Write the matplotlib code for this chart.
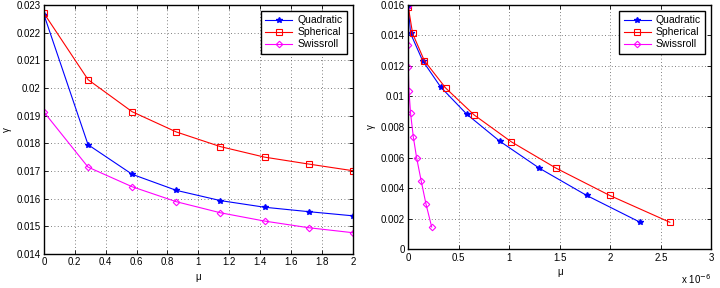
import matplotlib
matplotlib.use("Agg")
import matplotlib.pyplot as plt
from matplotlib.ticker import FuncFormatter, MultipleLocator
import numpy as np

# left panel
mu_left = [0, 2/7, 4/7, 6/7, 8/7, 10/7, 12/7, 2]
quad_left = [0.02265, 0.01795, 0.01688, 0.01630, 0.01593, 0.01569, 0.01553, 0.01538]
sph_left = [0.02270, 0.02030, 0.01914, 0.01841, 0.01788, 0.01750, 0.01725, 0.01701]
swiss_left = [0.01913, 0.01714, 0.01643, 0.01589, 0.01549, 0.01519, 0.01495, 0.01477]

# right panel (mu in units of 1e-6)
quad_mu = [0, 0.023, 0.142, 0.321, 0.579, 0.904, 1.298, 1.765, 2.295]
quad_g = [0.01593, 0.01413, 0.01235, 0.01062, 0.00884, 0.00708, 0.0053, 0.00352, 0.00176]
sph_mu = [0, 0.043, 0.159, 0.371, 0.652, 1.02, 1.464, 1.993, 2.589]
sph_g = [0.01589, 0.01413, 0.01235, 0.01055, 0.00879, 0.00703, 0.0053, 0.00352, 0.00176]
swiss_mu = [0, 0, 0, 0.007, 0.023, 0.05, 0.083, 0.129, 0.175, 0.232]
swiss_g = [0.01590, 0.01336, 0.01191, 0.01039, 0.0089, 0.00736, 0.00598, 0.00444, 0.00297, 0.00145]

labels = ["Quadratic", "Spherical", "Swissroll"]
fs = 7

plt.rcParams['font.family'] = ['Liberation Sans', 'DejaVu Sans']
plt.rcParams['font.size'] = fs

fig = plt.figure(figsize=(7.2, 2.88), dpi=100)
ax1 = fig.add_axes([0.061, 0.118, 0.429, 0.865])
ax2 = fig.add_axes([0.567, 0.135, 0.421, 0.848])

gfmt = FuncFormatter(lambda v, p: "%g" % round(v, 6))

def style(ax):
    ax.grid(True, linestyle=(0, (1, 3)), color='#555555', linewidth=0.6)
    ax.tick_params(direction='in', length=3, width=0.6, labelsize=fs, top=True, right=True, pad=2.5)
    for s in ax.spines.values():
        s.set_linewidth(1.0)
    leg = ax.legend(loc='upper right', fontsize=fs + 0.5, fancybox=False, framealpha=1,
                    edgecolor='black', borderpad=0.4, handlelength=2.6, labelspacing=0.2,
                    handletextpad=0.5, borderaxespad=0.6)
    leg.get_frame().set_linewidth(1.0)
    ax.set_xlabel("μ", fontsize=fs, labelpad=3)
    ax.set_ylabel("γ", fontsize=fs, labelpad=3)

def draw(ax, xq, yq, xs, ys, xw, yw):
    ax.plot(xq, yq, color='#0000ff', marker='*', markersize=4, linewidth=0.8, label=labels[0])
    ax.plot(xs, ys, color='#ff0000', marker='s', markersize=4.5, markerfacecolor='none',
            markeredgewidth=0.8, linewidth=0.8, label=labels[1])
    ax.plot(xw, yw, color='#ff00ff', marker='D', markersize=3.3, markerfacecolor='none',
            markeredgewidth=0.8, linewidth=0.8, label=labels[2])

draw(ax1, mu_left, quad_left, mu_left, sph_left, mu_left, swiss_left)
ax1.set_xlim(0, 2)
ax1.set_ylim(0.014, 0.023)
ax1.xaxis.set_major_locator(MultipleLocator(0.2))
ax1.yaxis.set_major_locator(MultipleLocator(0.001))
ax1.xaxis.set_major_formatter(gfmt)
ax1.yaxis.set_major_formatter(gfmt)
style(ax1)

draw(ax2, quad_mu, quad_g, sph_mu, sph_g, swiss_mu, swiss_g)
ax2.set_xlim(0, 3)
ax2.set_ylim(0, 0.016)
ax2.xaxis.set_major_locator(MultipleLocator(0.5))
ax2.yaxis.set_major_locator(MultipleLocator(0.002))
ax2.xaxis.set_major_formatter(gfmt)
ax2.yaxis.set_major_formatter(gfmt)
style(ax2)
ax2.text(1.0, -0.095, "x 10$^{-6}$", transform=ax2.transAxes, ha='right', va='top', fontsize=fs)

fig.savefig("out.png", dpi=100)
